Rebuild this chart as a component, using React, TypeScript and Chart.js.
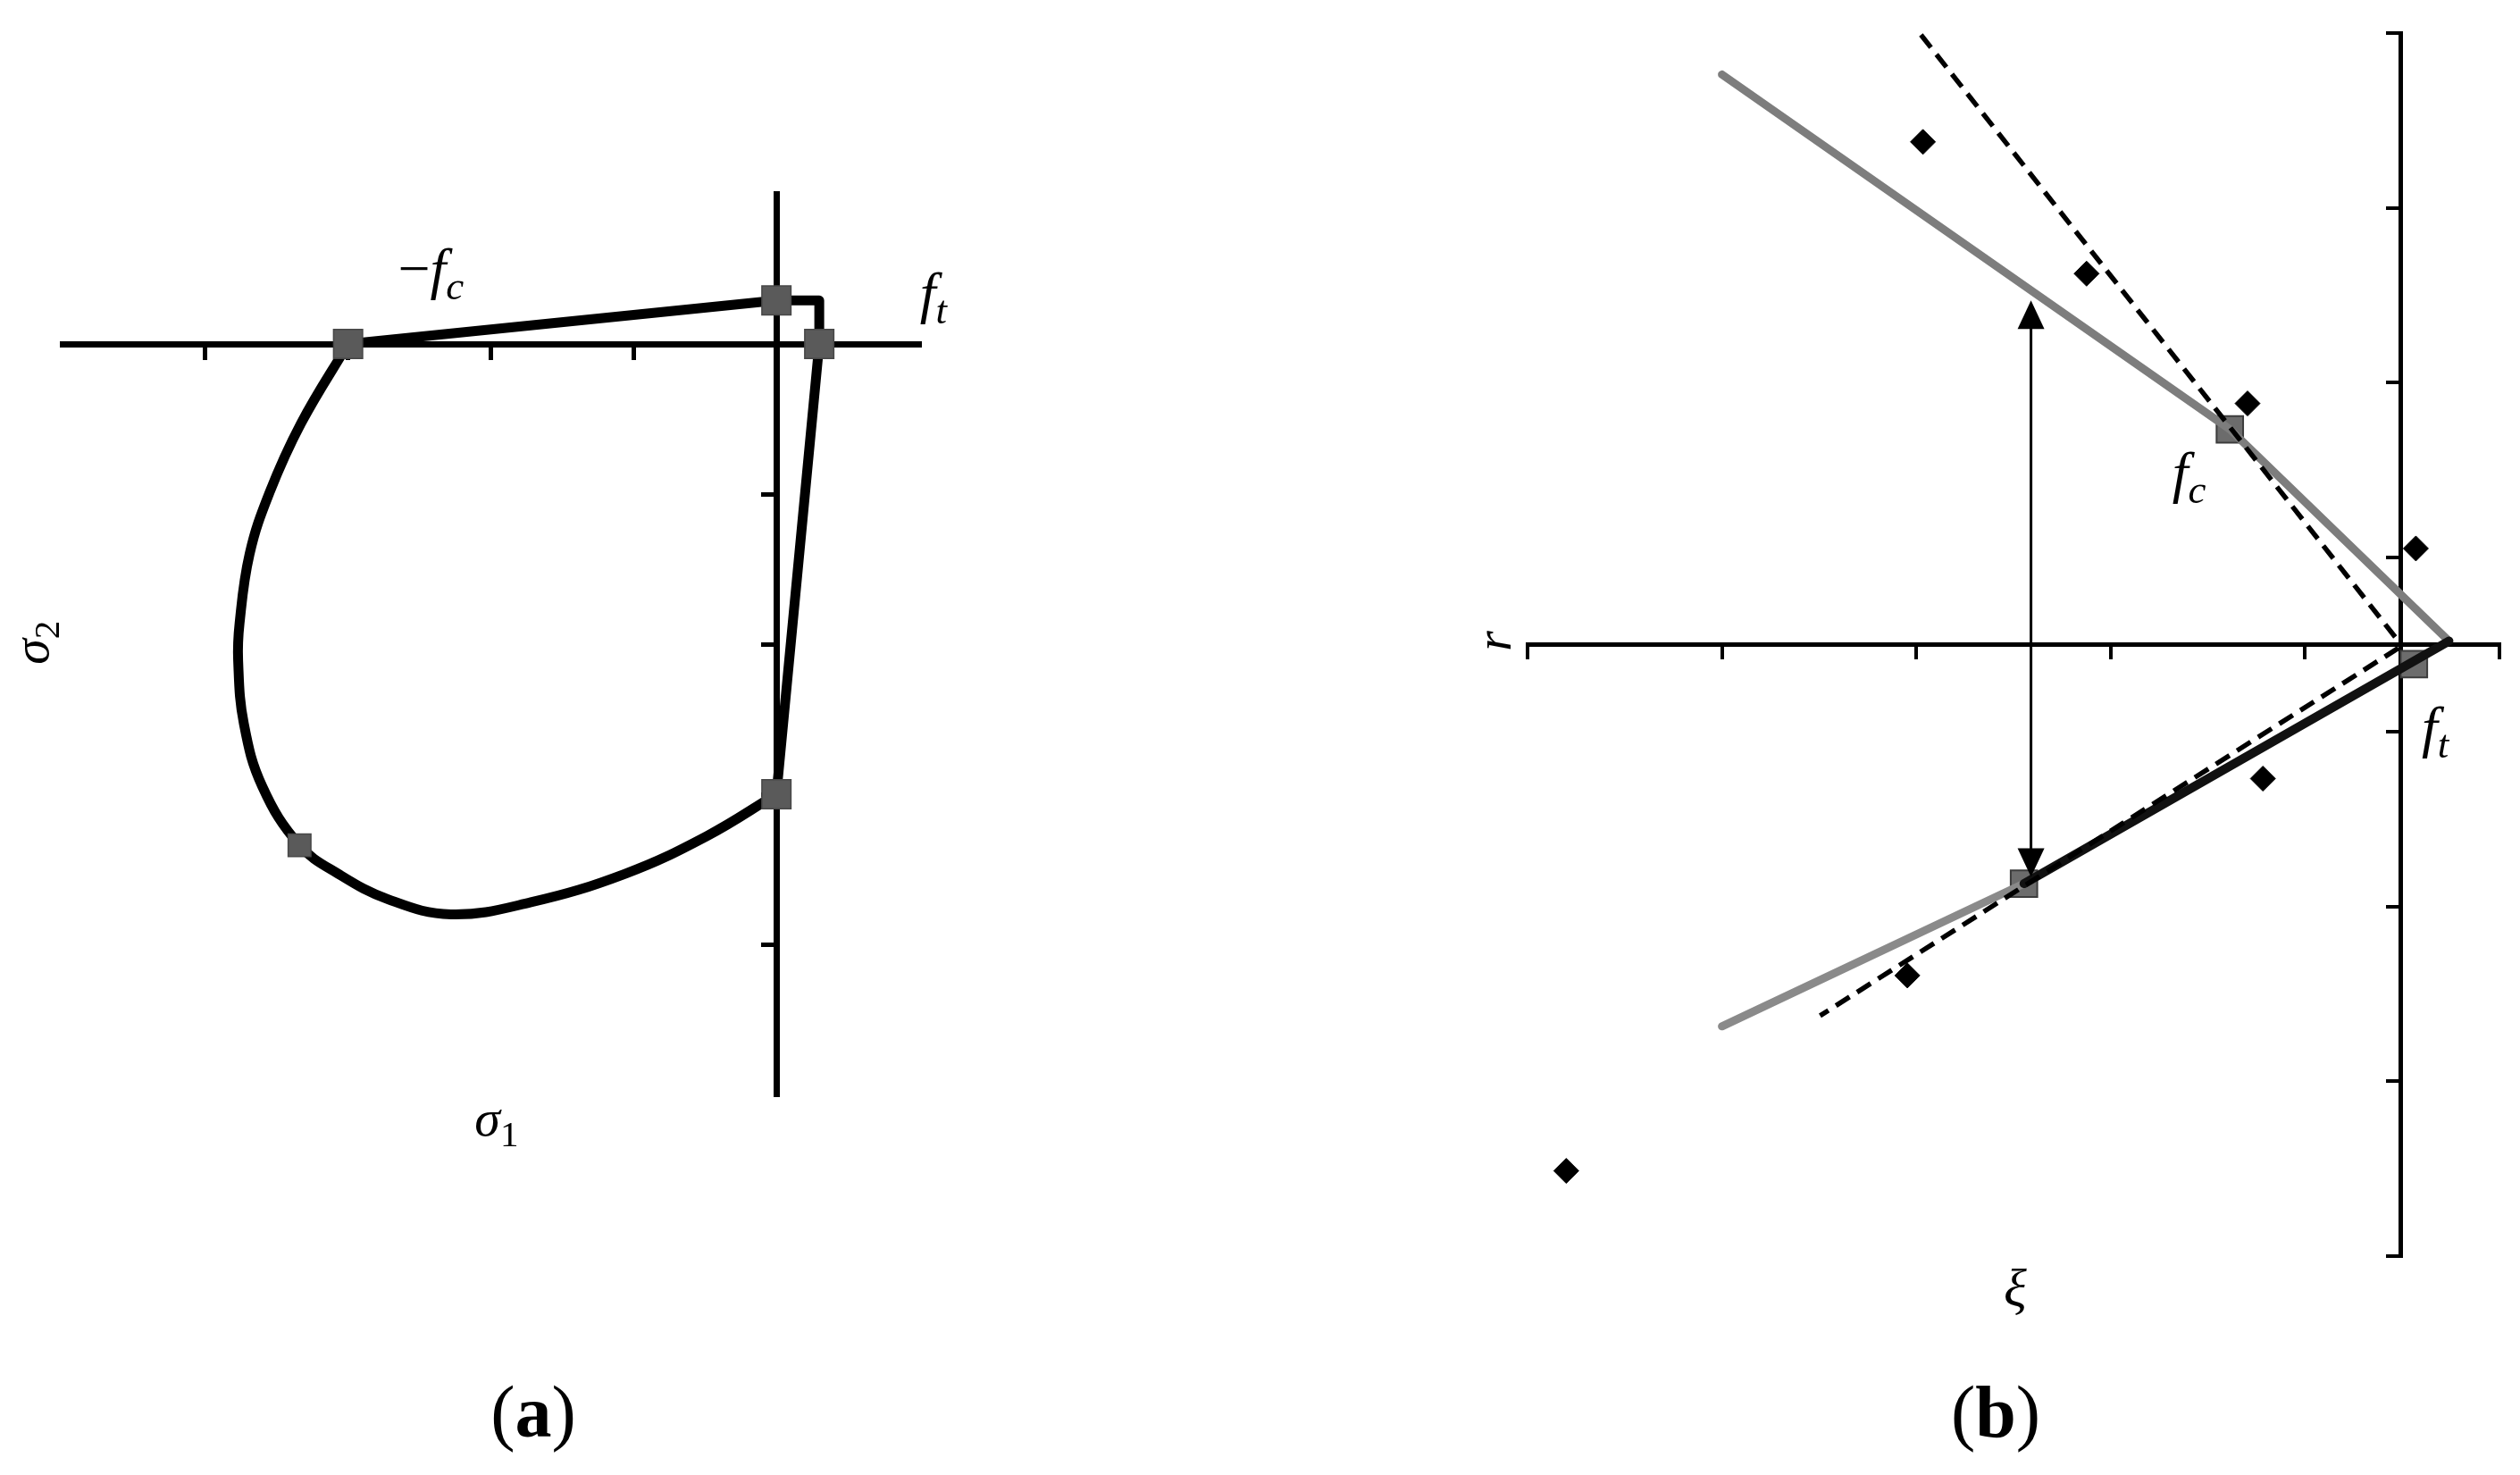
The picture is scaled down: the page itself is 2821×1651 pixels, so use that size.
import React, { useEffect, useRef } from 'react';
import { Chart, registerables } from 'chart.js';

Chart.register(...registerables);

// ---------------- Panel (a): biaxial failure envelope (sigma1, sigma2) ----------------
const aMin = -5;
const aMax = 1;
const aTicks = [-4, -3, -2, -1];
// straight branches: -fc -> top node -> corner -> ft node -> bottom node
const aOuterX = [-3, 0, 0.3, 0.3, 0];
const aOuterY = [0, 0.29, 0.29, 0, -3];
// curved compression-compression branch
const aCurveX = [0, -0.49, -1.06, -1.72, -2.28, -2.72, -3.07, -3.34, -3.6, -3.73, -3.77, -3.76, -3.69, -3.55, -3.33, -3];
const aCurveY = [-3, -3.28, -3.53, -3.72, -3.8, -3.7, -3.53, -3.34, -2.95, -2.53, -2.11, -1.86, -1.4, -0.99, -0.53, 0];
const aNodeX = [-3, 0, 0.3, 0];
const aNodeY = [0, 0.29, 0, -3];
const aMidNodeX = [-3.34];
const aMidNodeY = [-3.34];

// ---------------- Panel (b): meridian plane (xi, r) ----------------
const bXiMin = -4.49;
const bXiMax = 0.51;
const bRMin = -3.5;
const bRMax = 3.5;
const bXiTicks = [-4.49, -3.49, -2.49, -1.49, -0.49, 0.51];
const bRTicks = [-3.5, -2.5, -1.5, -0.5, 0.5, 1.5, 2.5, 3.5];
const bUpperGrayX = [-3.49, -0.877, 0.25];
const bUpperGrayY = [3.263, 1.232, 0.02];
const bUpperDashX = [-2.466, -0.01];
const bUpperDashY = [3.49, 0.02];
const bLowerDashX = [-0.01, -2.985];
const bLowerDashY = [-0.02, -2.124];
const bLowerBlackX = [0.25, -1.936];
const bLowerBlackY = [0.02, -1.368];
const bLowerGrayX = [-1.936, -3.49];
const bLowerGrayY = [-1.368, -2.185];
const bSquareX = [-0.877, -1.936, 0.07];
const bSquareY = [1.232, -1.368, -0.112];
const bDiamondX = [-2.456, -1.614, -0.786, 0.08, -0.707, -2.536, -4.291];
const bDiamondY = [2.877, 2.123, 1.38, 0.55, -0.767, -1.894, -3.012];
const bArrowX = [-1.9, -1.9];
const bArrowY = [1.97, -1.33];

const zip = (xs: number[], ys: number[]) => xs.map((x, i) => ({ x, y: ys[i] }));

type Seg = { t: string; it?: boolean; sub?: boolean; bold?: boolean };
const FONT = '"Liberation Serif", "DejaVu Serif", serif';

function drawMath(ctx: CanvasRenderingContext2D, segs: Seg[], cx: number, cy: number, size: number, rot = 0) {
  ctx.save();
  ctx.translate(cx, cy);
  if (rot) ctx.rotate(rot);
  const font = (s: Seg) =>
    `${s.it ? 'italic ' : ''}${s.bold ? 'bold ' : ''}${s.sub ? Math.round(size * 0.7) : size}px ${FONT}`;
  const widths = segs.map((s) => {
    ctx.font = font(s);
    return ctx.measureText(s.t).width;
  });
  const total = widths.reduce((a, b) => a + b, 0);
  let x = -total / 2;
  ctx.fillStyle = '#000';
  ctx.textAlign = 'left';
  ctx.textBaseline = 'alphabetic';
  segs.forEach((s, i) => {
    ctx.font = font(s);
    ctx.fillText(s.t, x, size * 0.25 + (s.sub ? size * 0.2 : 0));
    x += widths[i];
  });
  ctx.restore();
}

function axisX(min: number, max: number, ticks: number[], w: number, tl: number, tw: number) {
  return {
    type: 'linear',
    min,
    max,
    position: { y: 0 },
    afterBuildTicks: (s: any) => {
      s.ticks = ticks.map((v) => ({ value: v }));
    },
    ticks: { display: false },
    grid: { drawOnChartArea: false, drawTicks: true, tickLength: tl, color: '#000', lineWidth: tw },
    border: { display: true, color: '#000', width: w },
  };
}
function axisY(min: number, max: number, ticks: number[], w: number, tl: number, tw: number) {
  return {
    type: 'linear',
    min,
    max,
    position: { x: 0 },
    afterBuildTicks: (s: any) => {
      s.ticks = ticks.map((v) => ({ value: v }));
    },
    ticks: { display: false },
    grid: { drawOnChartArea: false, drawTicks: true, tickLength: tl, color: '#000', lineWidth: tw },
    border: { display: true, color: '#000', width: w },
  };
}

const baseOptions = (padding: any) => ({
  animation: false as const,
  responsive: false,
  maintainAspectRatio: false,
  devicePixelRatio: 1,
  events: [] as any[],
  layout: { padding },
  plugins: { legend: { display: false }, tooltip: { enabled: false }, title: { display: false } },
});

export default function App() {
  const refA = useRef<HTMLCanvasElement | null>(null);
  const refB = useRef<HTMLCanvasElement | null>(null);

  useEffect(() => {
    const labelsA = {
      id: 'labelsA',
      afterDraw(chart: any) {
        const { ctx, scales } = chart;
        const x = scales.x;
        const y = scales.y;
        const P = (a: number, b: number): [number, number] => [x.getPixelForValue(a), y.getPixelForValue(b)];
        drawMath(ctx, [{ t: '\u2212' }, { t: 'f', it: true }, { t: 'c', it: true, sub: true }], ...P(-2.42, 0.47), 64);
        drawMath(ctx, [{ t: 'f', it: true }, { t: 't', it: true, sub: true }], ...P(1.1, 0.31), 64);
        drawMath(ctx, [{ t: '\u03C3', it: true }, { t: '1', sub: true }], ...P(-1.96, -5.19), 58);
        drawMath(ctx, [{ t: '\u03C3', it: true }, { t: '2', sub: true }], ...P(-5.19, -1.99), 58, -Math.PI / 2);
        drawMath(ctx, [{ t: '(' }, { t: 'a', bold: true }, { t: ')' }], 597, 1587, 82);
      },
    };

    const chartA = new Chart(refA.current as HTMLCanvasElement, {
      type: 'scatter',
      data: {
        datasets: [
          {
            data: zip(aNodeX, aNodeY),
            pointStyle: 'rect',
            pointRadius: 23,
            backgroundColor: '#5a5a5a',
            borderColor: '#474747',
            borderWidth: 1.5,
            order: 0,
            clip: false,
          },
          {
            data: zip(aMidNodeX, aMidNodeY),
            pointStyle: 'rect',
            pointRadius: 18,
            backgroundColor: '#5a5a5a',
            borderColor: '#474747',
            borderWidth: 1.5,
            order: 0,
            clip: false,
          },
          {
            data: zip(aOuterX, aOuterY),
            showLine: true,
            pointRadius: 0,
            borderColor: '#000',
            borderWidth: 11,
            borderJoinStyle: 'round',
            borderCapStyle: 'round',
            order: 1,
            clip: false,
          },
          {
            data: zip(aCurveX, aCurveY),
            showLine: true,
            tension: 0.4,
            pointRadius: 0,
            borderColor: '#000',
            borderWidth: 11,
            borderJoinStyle: 'round',
            borderCapStyle: 'round',
            order: 1,
            clip: false,
          },
        ] as any,
      },
      options: {
        ...baseOptions({ left: 70, right: 371, top: 217, bottom: 426 }),
        scales: {
          x: axisX(aMin, aMax, aTicks, 7, 14, 5),
          y: axisY(aMin, aMax, aTicks, 7, 14, 5),
        } as any,
      } as any,
      plugins: [labelsA],
    });

    const extrasB = {
      id: 'extrasB',
      afterDatasetsDraw(chart: any) {
        const { ctx, scales } = chart;
        const px = scales.x.getPixelForValue(bArrowX[0]);
        const yTop = scales.y.getPixelForValue(bArrowY[0]);
        const yBot = scales.y.getPixelForValue(bArrowY[1]);
        const hl = 32;
        const hw = 15;
        ctx.save();
        ctx.strokeStyle = '#000';
        ctx.lineWidth = 3;
        ctx.beginPath();
        ctx.moveTo(px, yTop + hl - 2);
        ctx.lineTo(px, yBot - hl + 2);
        ctx.stroke();
        ctx.fillStyle = '#000';
        ctx.beginPath();
        ctx.moveTo(px, yTop);
        ctx.lineTo(px - hw, yTop + hl);
        ctx.lineTo(px + hw, yTop + hl);
        ctx.closePath();
        ctx.fill();
        ctx.beginPath();
        ctx.moveTo(px, yBot);
        ctx.lineTo(px - hw, yBot - hl);
        ctx.lineTo(px + hw, yBot - hl);
        ctx.closePath();
        ctx.fill();
        ctx.restore();
      },
      afterDraw(chart: any) {
        const { ctx, scales } = chart;
        const x = scales.x;
        const y = scales.y;
        const P = (a: number, b: number): [number, number] => [x.getPixelForValue(a), y.getPixelForValue(b)];
        drawMath(ctx, [{ t: 'f', it: true }, { t: 'c', it: true, sub: true }], ...P(-1.086, 0.96), 64);
        drawMath(ctx, [{ t: 'f', it: true }, { t: 't', it: true, sub: true }], ...P(0.18, -0.5), 64);
        drawMath(ctx, [{ t: 'r', it: true }], ...P(-4.645, 0.02), 58, -Math.PI / 2);
        drawMath(ctx, [{ t: '\u03BE', it: true }], ...P(-1.982, -3.712), 60);
        drawMath(ctx, [{ t: '(' }, { t: 'b', bold: true }, { t: ')' }], 2234 - 1400, 1587, 82);
      },
    };

    const chartB = new Chart(refB.current as HTMLCanvasElement, {
      type: 'scatter',
      data: {
        datasets: [
          {
            data: zip(bDiamondX, bDiamondY),
            pointStyle: 'rectRot',
            pointRadius: 14,
            backgroundColor: '#000',
            borderColor: '#000',
            borderWidth: 1,
            order: 0,
            clip: false,
          },
          {
            data: zip(bUpperDashX, bUpperDashY),
            showLine: true,
            pointRadius: 0,
            borderColor: '#000',
            borderWidth: 5.5,
            borderDash: [18, 10],
            order: 1,
            clip: false,
          },
          {
            data: zip(bLowerDashX, bLowerDashY),
            showLine: true,
            pointRadius: 0,
            borderColor: '#000',
            borderWidth: 5.5,
            borderDash: [18, 10],
            order: 1,
            clip: false,
          },
          {
            data: zip(bLowerBlackX, bLowerBlackY),
            showLine: true,
            pointRadius: 0,
            borderColor: '#111',
            borderWidth: 10,
            borderCapStyle: 'round',
            order: 2,
            clip: false,
          },
          {
            data: zip(bUpperGrayX, bUpperGrayY),
            showLine: true,
            pointRadius: 0,
            borderColor: '#7d7d7d',
            borderWidth: 9,
            borderCapStyle: 'round',
            borderJoinStyle: 'round',
            order: 2,
            clip: false,
          },
          {
            data: zip(bLowerGrayX, bLowerGrayY),
            showLine: true,
            pointRadius: 0,
            borderColor: '#8a8a8a',
            borderWidth: 9,
            borderCapStyle: 'round',
            order: 2,
            clip: false,
          },
          {
            data: zip(bSquareX, bSquareY),
            pointStyle: 'rect',
            pointRadius: 21,
            backgroundColor: '#6c6c6c',
            borderColor: '#3c3c3c',
            borderWidth: 2,
            order: 3,
            clip: false,
          },
        ] as any,
      },
      options: {
        ...baseOptions({ left: 310, right: 11, top: 37, bottom: 245 }),
        scales: {
          x: axisX(bXiMin, bXiMax, bXiTicks, 5, 14, 4),
          y: axisY(bRMin, bRMax, bRTicks, 5, 14, 4),
        } as any,
      } as any,
      plugins: [extrasB],
    });

    return () => {
      chartA.destroy();
      chartB.destroy();
    };
  }, []);

  return (
    <div
      style={{
        position: 'fixed',
        left: 0,
        top: 0,
        width: 2821,
        height: 1651,
        background: '#fff',
        overflow: 'hidden',
      }}
    >
      <canvas ref={refA} width={1400} height={1651} style={{ position: 'absolute', left: 0, top: 0 }} />
      <canvas ref={refB} width={1421} height={1651} style={{ position: 'absolute', left: 1400, top: 0 }} />
    </div>
  );
}
